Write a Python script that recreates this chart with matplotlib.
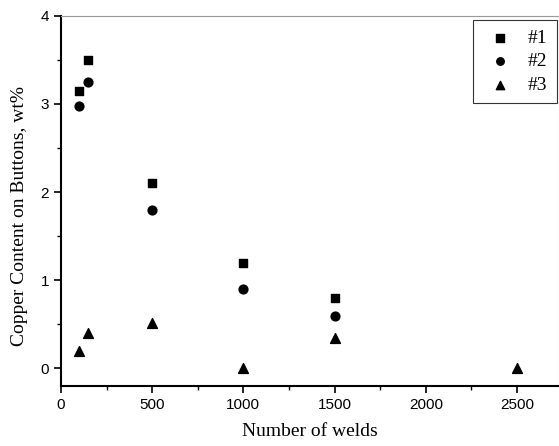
import matplotlib
matplotlib.use("Agg")
import matplotlib.pyplot as plt
from matplotlib.ticker import MultipleLocator

welds_1 = [100, 150, 500, 1000, 1500]
cu_1 = [3.15, 3.5, 2.1, 1.2, 0.8]
welds_2 = [100, 150, 500, 1000, 1500]
cu_2 = [2.98, 3.25, 1.8, 0.9, 0.6]
welds_3 = [100, 150, 500, 1000, 1500, 2500]
cu_3 = [0.2, 0.4, 0.52, 0.0, 0.35, 0.0]
labels = ["#1", "#2", "#3"]

fig = plt.figure(figsize=(5.59, 4.46), dpi=100)
ax = fig.add_axes([0.109, 0.1345, 0.891, 0.83])

ax.scatter(welds_1, cu_1, marker="s", s=36, c="black", label=labels[0], zorder=3)
ax.scatter(welds_2, cu_2, marker="o", s=40, c="black", label=labels[1], zorder=3)
ax.scatter(welds_3, cu_3, marker="^", s=50, c="black", label=labels[2], zorder=3)

ax.set_xlim(0, 2730)
ax.set_ylim(-0.2, 4)
ax.xaxis.set_major_locator(MultipleLocator(500))
ax.xaxis.set_minor_locator(MultipleLocator(250))
ax.yaxis.set_major_locator(MultipleLocator(1))
ax.yaxis.set_minor_locator(MultipleLocator(0.5))
ax.tick_params(which="major", direction="out", length=5, width=1.2, labelsize=11)
ax.tick_params(which="minor", direction="out", length=3, width=1.0)
for lab in ax.get_xticklabels() + ax.get_yticklabels():
    lab.set_family("Liberation Sans")

for s in ("left", "bottom"):
    ax.spines[s].set_linewidth(1.5)
ax.spines["top"].set_color("0.6")
ax.spines["right"].set_color("0.6")

ax.set_xlabel("Number of welds", family="Liberation Serif", fontsize=14, labelpad=8)
ax.set_ylabel("Copper Content on Buttons, wt%", family="Liberation Serif", fontsize=14)
ax.yaxis.set_label_coords(-0.066, 0.46)

leg = ax.legend(loc="upper right", bbox_to_anchor=(0.995, 0.99), frameon=True, fancybox=False,
                prop={"family": "Liberation Serif", "size": 14}, handletextpad=0.5,
                borderpad=0.5, labelspacing=0.3, scatterpoints=1, markerscale=0.85,
                handlelength=1.8, borderaxespad=0.0)
leg.get_frame().set_edgecolor("black")
leg.get_frame().set_linewidth(0.8)

fig.savefig("out.png", dpi=100)
